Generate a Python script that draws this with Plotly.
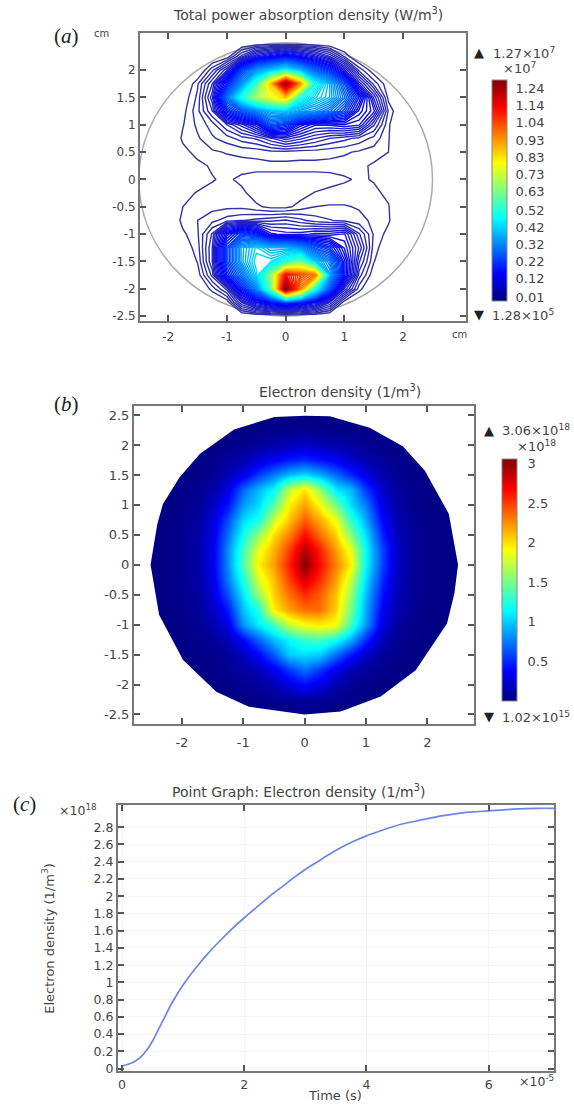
import plotly.graph_objects as go

W, H = 574, 1109

# ---------- data ----------
grid_x = [-2.5,-2.25,-2,-1.75,-1.5,-1.25,-1,-.75,-.5,-.25,0,.25,.5,.75,1,1.25,1.5,1.75,2,2.25,2.5]
grid_y = [2.5,2.25,2,1.75,1.5,1.25,1,.75,.5,.25,0,-.25,-.5,-.75,-1,-1.25,-1.5,-1.75,-2,-2.25,-2.5]

# Total power absorption density, in 1e5 W/m3
power = [
 [0,0,0,0,0,0,0,0,0,0,0,0,0,0,0,0,0,0,0,0,0],
 [0,0,0,0,0,0,1,6,12,15,18,15,12,8,3,0,0,0,0,0,0],
 [0,0,0,0,0,4,9,24,34,40,46,38,28,22,12,4,1,0,0,0,0],
 [0,0,0,0,3,8,20,34,54,85,122,90,48,38,26,10,4,1,0,0,0],
 [0,0,0,1,3.5,10,30,50,66,76,84,50,42,38,30,20,9,1.5,0,0,0],
 [0,0,0,1.5,4,8,20,26,32,38,40,36,34,30,24,16,12,3,0,0,0],
 [0,0,0,1.9,3.5,5,8,11,15,26,23,16,13,13,14,13,7,2.2,0,0,0],
 [0,0,0,2.3,3,4.2,5,6.2,7,9,11,9.5,8,6.8,6,5.2,4,2.1,0,0,0],
 [0,0,0,1.5,2.5,3,3.3,3.5,3.6,4,4,3.8,3.8,3.6,3.4,3,2.6,2,0,0,0],
 [0,0,0,1,1.6,2.2,2.6,2.7,2.8,2.8,2.8,2.8,2.8,2.8,2.6,2.3,1.8,1.4,0,0,0],
 [0,0,0,.8,1.4,1.9,2.3,1.6,1,1,1,1,1,1.2,1.8,2.2,1.9,1.2,0,0,0],
 [0,0,0,1.6,2.1,2.4,2.3,2.4,1.2,1,1,1.4,2.1,2.6,2.6,2.5,2.3,1.7,0,0,0],
 [0,0,0,2,2.5,2.8,2.9,2.9,2.3,1.6,1.6,2.5,3.2,3.3,3.3,3.1,2.7,2.1,0,0,0],
 [0,0,0,2.5,3.2,4,5,5.5,6,6.5,7,6,5,4.5,4,3.5,3,2.2,0,0,0],
 [0,0,0,1.7,3,7,18,24,20,12,11,11,12,12,13,7,3,1.5,0,0,0],
 [0,0,0,1,2.6,8,24,36,42,38,38,34,26,22,15,9,2.6,.8,0,0,0],
 [0,0,0,.5,2.1,8,24,36,44,44,50,60,40,32,18,7,2.1,0,0,0,0],
 [0,0,0,0,1.2,6,20,30,42,64,108,100,94,36,18,5,1,0,0,0,0],
 [0,0,0,0,0,2.5,6,20,32,58,124,92,50,26,9,2.5,0,0,0,0,0],
 [0,0,0,0,0,0,1,8,14,18,22,18,14,8,1,0,0,0,0,0,0],
 [0,0,0,0,0,0,0,0,0,0,0,0,0,0,0,0,0,0,0,0,0],
]
power_ticks = [1,12,22,32,42,52,63,73,83,93,104,114,124]
power_ticktext = ["0.01","0.12","0.22","0.32","0.42","0.52","0.63","0.73","0.83","0.93","1.04","1.14","1.24"]

# Electron density, in 1e18 1/m3
density = [
 [.02,.02,.02,.02,.02,.02,.02,.02,.02,.02,.02,.02,.02,.02,.02,.02,.02,.02,.02,.02,.02],
 [.02,.02,.02,.02,.02,.02,.02,.02,.04,.04,.05,.04,.04,.02,.02,.02,.02,.02,.02,.02,.02],
 [.02,.02,.02,.02,.02,.03,.05,.08,.12,.18,.22,.18,.14,.1,.06,.04,.02,.02,.02,.02,.02],
 [.02,.02,.02,.02,.04,.08,.14,.25,.35,.45,.5,.42,.34,.22,.14,.08,.04,.02,.02,.02,.02],
 [.02,.02,.02,.03,.06,.16,.32,.55,.75,.95,1.05,.9,.7,.5,.3,.14,.06,.03,.02,.02,.02],
 [.02,.02,.03,.05,.12,.3,.7,.95,1.15,1.75,2.0,1.6,1.1,.95,.55,.24,.1,.04,.02,.02,.02],
 [.02,.02,.03,.07,.2,.42,.85,1.05,1.4,1.95,2.2,1.9,1.5,1.05,.75,.32,.12,.05,.02,.02,.02],
 [.02,.02,.04,.1,.26,.6,1.05,1.2,1.75,2.1,2.4,2.15,1.85,1.3,.9,.4,.15,.06,.03,.02,.02],
 [.02,.03,.05,.12,.3,.72,1.2,1.6,2.0,2.3,2.65,2.35,2.05,1.55,1.05,.5,.18,.07,.03,.02,.02],
 [.02,.03,.05,.12,.32,.8,1.35,1.85,2.15,2.5,2.9,2.6,2.2,1.85,1.15,.6,.22,.08,.03,.02,.02],
 [.02,.03,.05,.12,.32,.8,1.4,1.95,2.2,2.6,3.05,2.65,2.3,1.95,1.15,.6,.22,.08,.03,.02,.02],
 [.02,.03,.05,.12,.3,.75,1.25,1.8,2.1,2.5,2.8,2.55,2.2,1.75,1.05,.52,.2,.07,.03,.02,.02],
 [.02,.03,.04,.1,.26,.62,1.1,1.6,2.05,2.35,2.55,2.4,2.1,1.6,.95,.45,.17,.07,.03,.02,.02],
 [.02,.02,.04,.08,.2,.45,.98,1.25,1.95,2.2,2.35,2.35,2.05,1.5,.9,.38,.14,.06,.02,.02,.02],
 [.02,.02,.03,.06,.14,.3,.85,1.1,1.35,1.75,1.9,1.95,1.9,1.35,.85,.3,.1,.04,.02,.02,.02],
 [.02,.02,.02,.04,.08,.16,.4,.68,.95,1.15,1.3,1.35,1.2,.9,.5,.18,.06,.03,.02,.02,.02],
 [.02,.02,.02,.03,.04,.08,.2,.38,.65,1.0,1.05,1.0,.7,.45,.22,.08,.04,.02,.02,.02,.02],
 [.02,.02,.02,.02,.03,.05,.1,.18,.32,.55,.72,.55,.32,.16,.08,.04,.02,.02,.02,.02,.02],
 [.02,.02,.02,.02,.02,.03,.05,.09,.16,.3,.4,.3,.15,.07,.03,.02,.02,.02,.02,.02,.02],
 [.02,.02,.02,.02,.02,.02,.02,.03,.04,.07,.1,.07,.04,.03,.02,.02,.02,.02,.02,.02,.02],
 [.02,.02,.02,.02,.02,.02,.02,.02,.02,.02,.02,.02,.02,.02,.02,.02,.02,.02,.02,.02,.02],
]
density_ticks = [.5,1,1.5,2,2.5,3]
density_ticktext = ["0.5","1","1.5","2","2.5","3"]

# outline of the simulated disc in panel b
disc_x = [-2.51,-2.4,-2.31,-2.04,-1.71,-1.15,-.49,0,.41,1.06,1.6,1.96,2.35,2.5,2.44,2.32,1.81,1.24,.59,0,-.91,-1.44,-1.98,-2.37,-2.51]
disc_y = [0,.68,1.01,1.46,1.85,2.26,2.47,2.49,2.48,2.29,1.98,1.57,.85,0,-.48,-.98,-1.76,-2.2,-2.45,-2.5,-2.37,-2.12,-1.59,-.84,0]

# Electron density over time: time in 1e-5 s, density in 1e18 1/m3
time_s = [0,.1,.2,.3,.4,.5,.6,.7,.8,.9,1,1.2,1.4,1.6,1.8,2,2.2,2.4,2.6,2.8,3,3.2,3.4,3.6,3.8,4,4.2,4.4,4.6,4.8,5,5.2,5.4,5.6,5.8,6,6.4,6.8,7.07]
n_e = [.03,.05,.08,.13,.21,.32,.46,.6,.74,.86,.97,1.16,1.33,1.48,1.62,1.75,1.87,1.99,2.1,2.21,2.31,2.4,2.49,2.57,2.64,2.7,2.75,2.8,2.84,2.87,2.9,2.93,2.95,2.97,2.98,2.99,3.01,3.02,3.02]
c_yticks = [0,.2,.4,.6,.8,1,1.2,1.4,1.6,1.8,2,2.2,2.4,2.6,2.8]
c_yticktext = ["0","0.2","0.4","0.6","0.8","1","1.2","1.4","1.6","1.8","2","2.2","2.4","2.6","2.8"]

a_xticks = [-2,-1,0,1,2]
a_yticks = [-2.5,-2,-1.5,-1,-.5,0,.5,1,1.5,2]
b_yticks = [-2.5,-2,-1.5,-1,-.5,0,.5,1,1.5,2,2.5]
DISC_R = 2.5

# ---------- style ----------
JET = [[0,"#00007f"],[.125,"#0000ff"],[.375,"#00ffff"],[.625,"#ffff00"],[.875,"#ff0000"],[1,"#7f0000"]]
JET_LINES = [[0,"#34349f"],[.06,"#2222c8"],[.125,"#0000ff"],[.375,"#00ffff"],[.625,"#ffff00"],[.875,"#ff0000"],[1,"#7f0000"]]
FONT = "DejaVu Sans"
TXT = "#444444"
AXC = "#777777"

def lab(v):
    return [str(x).replace(".0","") if x != 0 else "0" for x in v]

def axis(left_or_bottom, right_or_top, rng, vals, text, horizontal=True, anchor=None, size=12, grid=False, standoff=0):
    if horizontal:
        dom = [left_or_bottom / W, right_or_top / W]
    else:
        dom = [1 - left_or_bottom / H, 1 - right_or_top / H]
    return dict(domain=dom, range=rng, tickmode="array", tickvals=vals, ticktext=text,
                ticks="inside", ticklen=6, tickwidth=1.5, tickcolor="#555555",
                showline=True, linecolor=AXC, linewidth=2, mirror="ticks",
                showgrid=grid, gridcolor="#f5f5f5", gridwidth=1, zeroline=False, ticklabelstandoff=standoff,
                anchor=anchor, tickfont=dict(family=FONT, size=size, color=TXT))

def colorbar(x, top, bottom, vals, text, pad):
    return dict(x=x / W, xanchor="left", xpad=0, ypad=0, y=1 - bottom / H, yanchor="bottom",
                lenmode="fraction", len=(bottom - top) / H, thickness=15,
                tickmode="array", tickvals=vals, ticktext=text, ticks="outside", ticklen=pad,
                tickcolor="rgba(0,0,0,0)", outlinecolor="#888888", outlinewidth=1,
                tickfont=dict(family=FONT, size=13, color=TXT))

fig = go.Figure()

# Panel a
fig.add_trace(go.Contour(x=grid_x, y=grid_y, z=power, zmin=0, zmax=127, colorscale=JET_LINES,
                         contours=dict(start=2, end=124, size=1.2, coloring="lines"),
                         line=dict(width=1.4, smoothing=0), showscale=False, xaxis="x", yaxis="y",
                         hoverinfo="skip"))
fig.add_trace(go.Scatter(x=[0, 0], y=[0, 0], mode="markers", xaxis="x", yaxis="y", hoverinfo="skip",
                         marker=dict(size=0, opacity=0, color=[0, 127], cmin=-1, cmax=129, colorscale=JET,
                                     showscale=True,
                                     colorbar=colorbar(492, 80, 302, power_ticks, power_ticktext, 6))))

# Panel b
fig.add_trace(go.Heatmap(x=grid_x, y=grid_y, z=density, zmin=0, zmax=3.06, colorscale=JET, zsmooth="best",
                         xaxis="x2", yaxis="y2", hoverinfo="skip",
                         colorbar=colorbar(502, 461, 704, density_ticks, density_ticktext, 8)))
mask_x = [-2.9, -2.9, 2.9, 2.9, -2.9, -2.9]
mask_y = [0, 2.9, 2.9, -2.9, -2.9, 0]
fig.add_trace(go.Scatter(x=mask_x + disc_x[::-1] + [-2.9], y=mask_y + disc_y[::-1] + [0],
                         mode="lines", fill="toself", fillcolor="white", line=dict(width=0),
                         xaxis="x2", yaxis="y2", hoverinfo="skip"))

# Panel c
fig.add_trace(go.Scatter(x=time_s, y=n_e, mode="lines", line=dict(color="#6a86ea", width=1.7, shape="spline", smoothing=0.8),
                         xaxis="x3", yaxis="y3", hoverinfo="skip"))

def ann(x, y, text, size=13, family=FONT, color=TXT, anchor="center", angle=0):
    fig.add_annotation(x=x / W, y=1 - y / H, xref="paper", yref="paper", text=text, showarrow=False,
                       font=dict(family=family, size=size, color=color), xanchor=anchor, yanchor="middle",
                       textangle=angle)

SERIF = "Liberation Serif"
ann(308, 14, "Total power absorption density (W/m<sup>3</sup>)", 14)
ann(66, 36, "(<i>a</i>)", 21, SERIF, "#222222")
ann(101, 34, "cm", 10)
ann(459, 336, "cm", 10)
ann(479, 53, "▲", 13, color="#222222")
ann(524, 53, "1.27×10<sup>7</sup>")
ann(519, 68, "×10<sup>7</sup>")
ann(479, 316, "▼", 13, color="#222222")
ann(523, 316, "1.28×10<sup>5</sup>")

ann(340, 393, "Electron density (1/m<sup>3</sup>)", 14)
ann(66, 406, "(<i>b</i>)", 21, SERIF, "#222222")
ann(489, 432, "▲", 13, color="#222222")
ann(536, 432, "3.06×10<sup>18</sup>")
ann(536, 448, "×10<sup>18</sup>")
ann(489, 720, "▼", 13, color="#222222")
ann(536, 720, "1.02×10<sup>15</sup>")

ann(298, 795, "Point Graph: Electron density (1/m<sup>3</sup>)", 14)
ann(24, 808, "(<i>c</i>)", 21, SERIF, "#222222")
ann(78, 814, "×10<sup>18</sup>", 12.5)
ann(536, 1086, "×10<sup>-5</sup>", 12.5)
ann(335, 1100, "Time (s)", 13)
ann(48, 943, "Electron density (1/m<sup>3</sup>)", 13, angle=-90)

fig.add_shape(type="circle", xref="x", yref="y", x0=-DISC_R, y0=-DISC_R, x1=DISC_R, y1=DISC_R,
              line=dict(color="#aaaaaa", width=1.5), layer="below")

fig.update_layout(
    width=W, height=H, margin=dict(l=0, r=0, t=0, b=0), autosize=False,
    paper_bgcolor="white", plot_bgcolor="white", showlegend=False,
    xaxis=axis(140, 466, [-2.48, 3.07], a_xticks, lab(a_xticks), True, "y", standoff=4),
    yaxis=axis(322, 33, [-2.58, 2.68], a_yticks, lab(a_yticks), False, "x"),
    xaxis2=axis(134, 474, [-2.78, 2.76], a_xticks, lab(a_xticks), True, "y2", size=13, standoff=6),
    yaxis2=axis(727, 408, [-2.655, 2.65], b_yticks, lab(b_yticks), False, "x2", size=13),
    xaxis3=axis(118, 554, [-.066, 7.07], [0, 2, 4, 6], ["0", "2", "4", "6"], True, "y3", size=12.5, grid=True, standoff=1),
    yaxis3=axis(1076, 809, [-.03, 3.054], c_yticks, c_yticktext, False, "x3", size=12.5, grid=True),
)

fig.write_html("out.html", config={"displayModeBar": False},
               post_script="document.body.style.margin='0';document.body.style.overflow='hidden';")
